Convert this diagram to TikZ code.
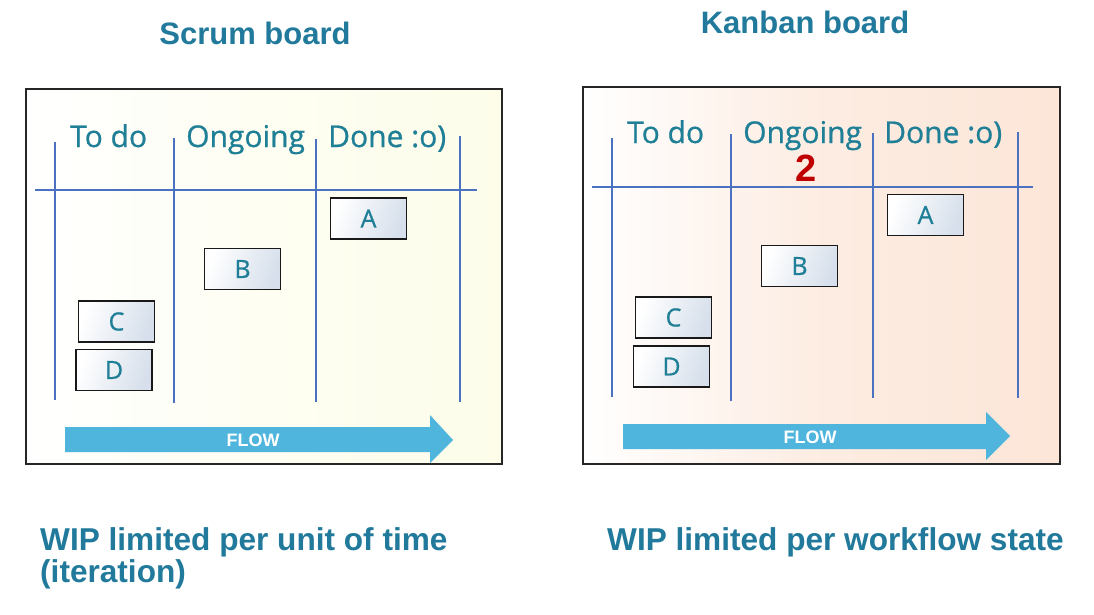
\documentclass[tikz,border=0pt]{standalone}
\usepackage{fontspec}
\setmainfont{Liberation Sans}
\newfontfamily\handfont[FakeBold=0.8]{Open Sans}
\usetikzlibrary{shadings}
\definecolor{titleblue}{HTML}{217A9B}
\definecolor{linecol}{HTML}{4A72C0}
\definecolor{headcol}{HTML}{1F7F96}
\definecolor{flowcol}{HTML}{4FB5DC}
\definecolor{cardblue}{HTML}{D6DFEB}
\definecolor{boardyellow}{HTML}{FDFDEA}
\definecolor{boardpeach}{HTML}{FCE6D8}
\definecolor{wipred}{HTML}{C00000}
\tikzset{
  boardline/.style={draw=linecol, line width=2.5pt},
  header/.style={font=\handfont\fontsize{30}{32}\selectfont, text=headcol, anchor=base west, inner sep=0pt},
  card/.style={draw=black!90, line width=1.6pt, minimum width=76pt, minimum height=41pt, inner sep=0pt,
     shading=axis, left color=white, right color=cardblue, shading angle=70,
     font=\handfont\fontsize{25}{28}\selectfont, text=headcol},
  title/.style={font=\bfseries\fontsize{31}{34}\selectfont, text=titleblue, inner sep=0pt},
  wip/.style={font=\bfseries\fontsize{31.6}{32}\selectfont, text=titleblue, anchor=base west, inner sep=0pt},
  flowtxt/.style={font=\bfseries\fontsize{18}{20}\selectfont, text=white, inner sep=0pt},
  frame/.style={draw=black!85, line width=1.4pt}
}
\begin{document}
\begin{tikzpicture}[x=1pt,y=-1pt]
\useasboundingbox (0,0) rectangle (1094,615);
\fill[white] (0,0) rectangle (1094,615);

% ---------------- Scrum board ----------------
\shade[shading=axis, shading angle=120, left color=white, right color=boardyellow, middle color=boardyellow!60!white] (26,89) rectangle (502,464);
\draw[frame] (26,89) rectangle (502,464);
\node[title] (t1) at (255,33) {Scrum board};
\draw[boardline] (35,190) -- (477,190);
\draw[boardline] (55,142) -- (55,400);
\draw[boardline] (174,138) -- (174,403);
\draw[boardline] (316,139) -- (316,402);
\draw[boardline] (460,136) -- (460,402);
\node[header] (h1a) at (70,147) {To do};
\node[header] (h1b) at (186,147) {Ongoing};
\node[header] (h1c) at (328,147) {Done :o)};
\node[card] (a1) at (368.5,218.5) {A};
\node[card] (b1) at (242.5,269) {B};
\node[card] (c1) at (116.5,321.5) {C};
\node[card] (d1) at (114,370) {D};
\fill[flowcol] (65,427) -- (430,427) -- (430,415) -- (453,440) -- (430,463) -- (430,452) -- (65,452) -- cycle;
\node[flowtxt] (f1) at (253,440) {FLOW};
\node[wip] (w1) at (40,550) {WIP limited per unit of time};
\node[wip] (w1b) at (40,582) {(iteration)};

% ---------------- Kanban board ----------------
\shade[shading=axis, shading angle=120, left color=white, right color=boardpeach, middle color=boardpeach!75!white] (583,87) rectangle (1060,464);
\draw[frame] (583,87) rectangle (1060,464);
\node[title] (t2) at (805,22) {Kanban board};
\draw[boardline] (592,187) -- (1033,187);
\draw[boardline] (612,138) -- (612,397);
\draw[boardline] (731,134) -- (731,401);
\draw[boardline] (873,133) -- (873,398);
\draw[boardline] (1018,132) -- (1018,398);
\node[header] (h2a) at (627,143) {To do};
\node[header] (h2b) at (743,143) {Ongoing};
\node[header] (h2c) at (884,143) {Done :o)};
\node[font=\bfseries\fontsize{38}{40}\selectfont, text=wipred, inner sep=0pt] (lim) at (806,168) {2};
\node[card] (a2) at (925.5,215) {A};
\node[card] (b2) at (799.5,266) {B};
\node[card] (c2) at (673.5,317.5) {C};
\node[card] (d2) at (671.5,366.5) {D};
\fill[flowcol] (623,424) -- (986,424) -- (986,412) -- (1010,436) -- (986,460) -- (986,449) -- (623,449) -- cycle;
\node[flowtxt] (f2) at (810,437) {FLOW};
\node[wip] (w2) at (607,550) {WIP limited per workflow state};
\end{tikzpicture}
\end{document}
